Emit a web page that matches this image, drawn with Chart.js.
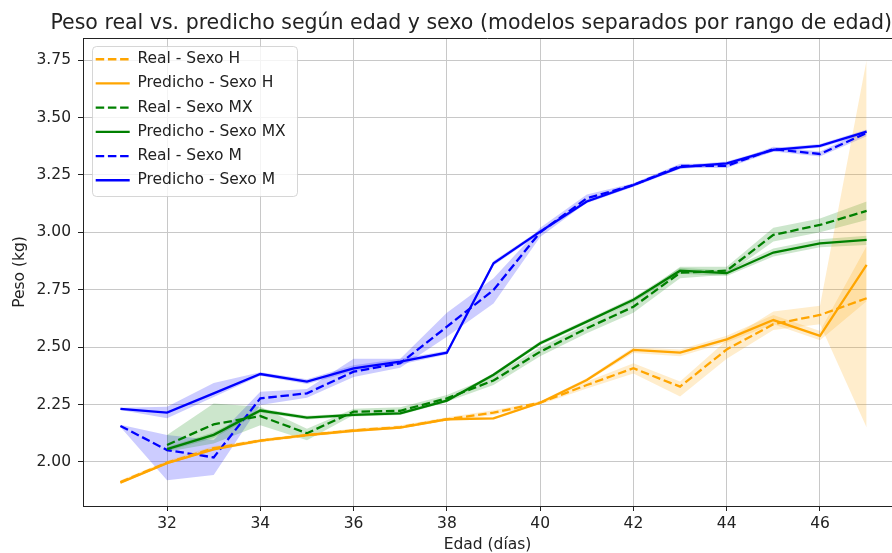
<!DOCTYPE html>
<html>
<head>
<meta charset="utf-8">
<script src="https://cdn.jsdelivr.net/npm/chart.js@4/dist/chart.umd.min.js"></script>
<style>
  body { margin: 0; background: #fff; }
</style>
</head>
<body>
<canvas id="grafico" width="892" height="553"></canvas>
<script>
// edades (días)
const edades = [31, 32, 33, 34, 35, 36, 37, 38, 39, 40, 41, 42, 43, 44, 45, 46, 47];
const ticksX = [32, 34, 36, 38, 40, 42, 44, 46];
const ticksY = [2.00, 2.25, 2.50, 2.75, 3.00, 3.25, 3.50, 3.75];

// Sexo H
const realH = [1.913, 1.997, 2.06, 2.093, 2.117, 2.138, 2.152, 2.186, 2.215, 2.258, 2.335, 2.408, 2.328, 2.49, 2.60, 2.64, 2.713];
const realH_inf = [1.905, 1.99, 2.05, 2.085, 2.11, 2.13, 2.145, 2.18, 2.205, 2.25, 2.32, 2.385, 2.285, 2.45, 2.575, 2.60, 2.15];
const realH_sup = [1.92, 2.005, 2.07, 2.10, 2.125, 2.145, 2.16, 2.195, 2.225, 2.265, 2.35, 2.43, 2.35, 2.53, 2.655, 2.68, 3.75];
const predH = [1.91, 1.995, 2.055, 2.093, 2.117, 2.136, 2.15, 2.186, 2.19, 2.258, 2.357, 2.488, 2.476, 2.534, 2.618, 2.549, 2.858];
const predH_inf = [1.905, 1.99, 2.05, 2.088, 2.112, 2.131, 2.145, 2.181, 2.185, 2.252, 2.35, 2.475, 2.46, 2.52, 2.60, 2.53, 2.70];
const predH_sup = [1.915, 2.0, 2.06, 2.098, 2.122, 2.141, 2.155, 2.191, 2.195, 2.264, 2.365, 2.50, 2.49, 2.55, 2.64, 2.57, 2.94];

// Sexo MX (sin dato a los 31 días)
const realMX = [null, 2.074, 2.164, 2.20, 2.125, 2.219, 2.223, 2.277, 2.355, 2.48, 2.582, 2.676, 2.824, 2.833, 2.989, 3.032, 3.093];
const realMX_inf = [null, 2.045, 2.08, 2.16, 2.095, 2.205, 2.208, 2.262, 2.335, 2.46, 2.56, 2.65, 2.80, 2.815, 2.96, 3.00, 3.054];
const realMX_sup = [null, 2.118, 2.255, 2.24, 2.145, 2.232, 2.238, 2.292, 2.375, 2.50, 2.60, 2.70, 2.85, 2.85, 3.02, 3.06, 3.134];
const predMX = [null, 2.056, 2.118, 2.224, 2.193, 2.205, 2.212, 2.267, 2.38, 2.517, 2.611, 2.706, 2.833, 2.822, 2.912, 2.952, 2.967];
const predMX_inf = [null, 2.048, 2.105, 2.215, 2.185, 2.198, 2.205, 2.26, 2.372, 2.508, 2.602, 2.696, 2.82, 2.81, 2.895, 2.935, 2.945];
const predMX_sup = [null, 2.064, 2.13, 2.233, 2.201, 2.212, 2.219, 2.274, 2.388, 2.526, 2.62, 2.716, 2.846, 2.834, 2.93, 2.97, 2.985];

// Sexo M
const realM = [2.157, 2.052, 2.02, 2.277, 2.299, 2.393, 2.43, 2.589, 2.749, 3.00, 3.148, 3.206, 3.289, 3.289, 3.362, 3.341, 3.432];
const realM_inf = [2.152, 1.92, 1.943, 2.248, 2.28, 2.37, 2.41, 2.545, 2.69, 2.98, 3.13, 3.198, 3.28, 3.28, 3.352, 3.33, 3.418];
const realM_sup = [2.162, 2.118, 2.096, 2.306, 2.318, 2.45, 2.45, 2.65, 2.80, 3.02, 3.165, 3.214, 3.298, 3.298, 3.372, 3.352, 3.446];
const predM = [2.231, 2.215, 2.299, 2.383, 2.35, 2.408, 2.437, 2.476, 2.865, 3.003, 3.134, 3.206, 3.284, 3.30, 3.359, 3.376, 3.438];
const predM_inf = [2.226, 2.19, 2.283, 2.375, 2.34, 2.395, 2.425, 2.468, 2.855, 2.995, 3.126, 3.198, 3.276, 3.292, 3.351, 3.368, 3.428];
const predM_sup = [2.236, 2.24, 2.344, 2.391, 2.36, 2.421, 2.449, 2.484, 2.875, 3.011, 3.142, 3.214, 3.292, 3.308, 3.367, 3.384, 3.448];

const FUENTE = "'DejaVu Sans', sans-serif";
const NARANJA = '#FFA500', VERDE = '#008000', AZUL = '#0000FF';
const DASH = [8.5, 3.7];
const TAM = 15.5;
const GROSOR = 2.3;

const puntos = arr => edades.map((x, i) => ({ x: x, y: arr[i] }));

function linea(label, arr, color, dash) {
  return {
    label: label,
    data: puntos(arr),
    borderColor: color,
    backgroundColor: color,
    borderWidth: GROSOR,
    borderDash: dash ? DASH : [],
    pointRadius: 0,
    pointStyle: 'line',
    tension: 0,
    fill: false
  };
}

const series = [
  linea('Real - Sexo H', realH, NARANJA, true),
  linea('Predicho - Sexo H', predH, NARANJA, false),
  linea('Real - Sexo MX', realMX, VERDE, true),
  linea('Predicho - Sexo MX', predMX, VERDE, false),
  linea('Real - Sexo M', realM, AZUL, true),
  linea('Predicho - Sexo M', predM, AZUL, false)
];

// bandas de confianza: par inferior / superior
const bandas = [
  [realH_inf, realH_sup, 'rgba(255,165,0,0.2)'],
  [predH_inf, predH_sup, 'rgba(255,165,0,0.2)'],
  [realMX_inf, realMX_sup, 'rgba(0,128,0,0.2)'],
  [predMX_inf, predMX_sup, 'rgba(0,128,0,0.2)'],
  [realM_inf, realM_sup, 'rgba(0,0,255,0.2)'],
  [predM_inf, predM_sup, 'rgba(0,0,255,0.2)']
];

const datasets = series.slice();
bandas.forEach(b => {
  const idxInf = datasets.length;
  datasets.push({ label: 'banda', data: puntos(b[0]), borderWidth: 0, pointRadius: 0, fill: false, tension: 0 });
  datasets.push({ label: 'banda', data: puntos(b[1]), borderWidth: 0, pointRadius: 0, tension: 0,
    backgroundColor: b[2], fill: { target: idxInf } });
});

// leyenda dentro del área (arriba a la izquierda) con su marco, y borde superior
const marco = {
  id: 'marco',
  beforeUpdate(chart) {
    const lg = chart.legend;
    // la leyenda se dibuja después de las líneas, encima del marco
    lg._layers = () => [{ z: 1, draw: ca => lg.draw(ca) }];
  },
  afterUpdate(chart) {
    const lg = chart.legend;
    const dy = chart.chartArea.top - lg.top;
    const dx = 4;
    lg.top += dy; lg.bottom += dy;
    lg.left += dx; lg.right += dx;
    lg.legendHitBoxes.forEach(h => { h.top += dy; h.left += dx; });
  },
  afterDatasetsDraw(chart) {
    const ctx = chart.ctx;
    const a = chart.chartArea;
    ctx.save();
    ctx.strokeStyle = '#222';
    ctx.lineWidth = 1;
    ctx.beginPath();
    ctx.moveTo(a.left, a.top + 0.5);
    ctx.lineTo(a.right, a.top + 0.5);
    ctx.stroke();
    const hb = chart.legend.legendHitBoxes;
    if (hb && hb.length) {
      let l = Infinity, t = Infinity, r = -Infinity, b = -Infinity;
      hb.forEach(h => {
        l = Math.min(l, h.left); t = Math.min(t, h.top);
        r = Math.max(r, h.left + h.width); b = Math.max(b, h.top + h.height);
      });
      ctx.beginPath();
      ctx.roundRect(Math.round(l - 3.7) + 0.5, Math.round(t - 5.5) + 0.5, Math.round(r - l + 14.7), Math.round(b - t + 13.5), 4);
      ctx.fillStyle = 'rgba(255,255,255,0.8)';
      ctx.fill();
      ctx.strokeStyle = 'rgba(204,204,204,0.8)';
      ctx.stroke();
    }
    ctx.restore();
  }
};

const config = {
  type: 'line',
  data: { datasets: datasets },
  options: {
    responsive: false,
    devicePixelRatio: 1,
    animation: false,
    layout: { padding: 0 },
    plugins: {
      title: {
        display: true,
        text: 'Peso real vs. predicho según edad y sexo (modelos separados por rango de edad)',
        font: { family: FUENTE, size: 20.5, weight: 'normal', lineHeight: 1.2 },
        color: '#222',
        align: 'end',
        fullSize: true,
        padding: { top: 11, bottom: 2.4 }
      },
      legend: {
        position: 'chartArea',
        align: 'start',
        title: { display: true, text: '', font: { size: 4.8, lineHeight: 1 }, padding: 0 },
        labels: {
          font: { family: FUENTE, size: TAM },
          color: '#222',
          padding: 8.7,
          usePointStyle: true,
          pointStyleWidth: 34,
          filter: item => item.datasetIndex < 6,
          generateLabels: chart => {
            const items = Chart.defaults.plugins.legend.labels.generateLabels(chart);
            items.forEach(it => {
              const ds = chart.data.datasets[it.datasetIndex];
              it.lineDash = ds.borderDash || [];
              it.lineWidth = GROSOR;
              it.strokeStyle = ds.borderColor;
            });
            return items;
          }
        }
      },
      tooltip: { enabled: false }
    },
    scales: {
      x: {
        type: 'linear',
        min: 30.198,
        max: 47.544,
        afterBuildTicks: s => { s.ticks = ticksX.map(v => ({ value: v })); },
        afterFit: s => { s.height = 47; },
        ticks: {
          autoSkip: false,
          maxRotation: 0,
          padding: 3.5,
          color: '#222',
          font: { family: FUENTE, size: TAM }
        },
        grid: { color: '#c8c8c8', lineWidth: 1, tickColor: '#222', tickLength: 5 },
        border: { color: '#222', width: 1 },
        title: {
          display: true,
          text: 'Edad (días)',
          color: '#222',
          font: { family: FUENTE, size: TAM },
          padding: { top: 0, bottom: -1 }
        }
      },
      y: {
        min: 1.8084,
        max: 3.846,
        afterBuildTicks: s => { s.ticks = ticksY.map(v => ({ value: v })); },
        afterFit: s => { s.width = 83; },
        ticks: {
          padding: 7,
          color: '#222',
          font: { family: FUENTE, size: TAM },
          callback: v => v.toFixed(2)
        },
        grid: { color: '#c8c8c8', lineWidth: 1, tickColor: '#222', tickLength: 5 },
        border: { color: '#222', width: 1 },
        title: {
          display: true,
          text: 'Peso (kg)',
          color: '#222',
          font: { family: FUENTE, size: TAM },
          padding: { top: 10.7, bottom: 0 }
        }
      }
    }
  },
  plugins: [marco]
};

const grafico = new Chart(document.getElementById('grafico'), config);
</script>
</body>
</html>
